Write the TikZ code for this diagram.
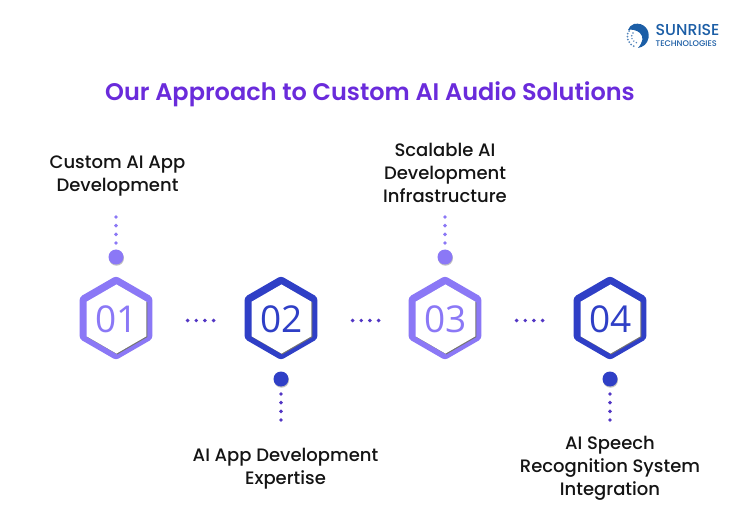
\documentclass[tikz,border=0pt]{standalone}
\usepackage{fontspec}
\setmainfont{Poppins}
\newfontfamily\labelfont{Poppins Medium}
\newfontfamily\titlefont{Poppins SemiBold}
\newfontfamily\numfont{Open Sans}
\usetikzlibrary{positioning,shapes.geometric,shadows}
\definecolor{lightpurple}{HTML}{8B78F6}
\definecolor{darkblue}{HTML}{2F3FC6}
\definecolor{dotviolet}{HTML}{5236C4}
\definecolor{titleviolet}{HTML}{6A2BDB}
\definecolor{logoblue}{HTML}{1C5EA6}

\begin{document}
\begin{tikzpicture}[x=1pt,y=-1pt]

 \tikzset{
    hexring/.style={regular polygon, regular polygon sides=6, shape border rotate=30,
      minimum size=84pt, inner sep=0pt, rounded corners=3pt, fill=#1},
    hexcore/.style={regular polygon, regular polygon sides=6, shape border rotate=30,
      minimum size=65pt, inner sep=0pt, fill=white, text=#1, font=\numfont\fontsize{37}{37}\selectfont,
      drop shadow={shadow xshift=0.9pt, shadow yshift=-0.8pt, fill=black!55, opacity=1}},
    bullet/.style={circle, minimum size=15pt, inner sep=0pt, fill=#1,
      drop shadow={shadow xshift=0.5pt, shadow yshift=-1.2pt, fill=black!25, opacity=1}},
    dotline/.style={draw=#1, line width=3.9pt, line cap=round, dash pattern=on 0pt off 8.67pt},
    steplabel/.style={align=center, inner sep=0pt, text=black!92,
      font=\labelfont\fontsize{18}{23}\selectfont},
  }

  \useasboundingbox (0,0) rectangle (740,532);
  \fill[white] (0,0) rectangle (740,532);

  % logo
  \fill[logoblue] (634,24) .. controls (644,22) and (650,30) .. (648.5,38)
    .. controls (647.5,44) and (643,47) .. (638,48)
    .. controls (643,42) and (644,37) .. (640,33)
    .. controls (637,30) and (631,29) .. (628,30)
    .. controls (629,27) and (631,25) .. (634,24) -- cycle;
  \draw[logoblue!75, line width=2pt, line cap=round, dash pattern=on 0pt off 3pt]
    (629,31) .. controls (625,37) and (628,45) .. (636,47);
  \draw[logoblue!75, line width=1.6pt, line cap=round, dash pattern=on 0pt off 3pt]
    (633,33) .. controls (630,37) and (632,41) .. (637,43);
  \node (logotop) [anchor=west, inner sep=0pt, text=logoblue, font=\labelfont\fontsize{15.8}{15.8}\selectfont] at (655.5,30) {SUNRISE};
  \node (logobottom) [anchor=west, inner sep=0pt, text=logoblue, font=\labelfont\fontsize{8.2}{8.2}\selectfont] at (655.5,43.5) {TECHNOLOGIES};

  \node (title) [inner sep=0pt, text=titleviolet, font=\titlefont\fontsize{24}{24}\selectfont] at (370,94)
    {Our Approach to Custom AI Audio Solutions};

  % hexagons
  \node (ring1) [hexring=lightpurple] at (116,318) {};
  \node (ring2) [hexring=darkblue] at (281,318) {};
  \node (ring3) [hexring=lightpurple] at (445,318) {};
  \node (ring4) [hexring=darkblue] at (610,318) {};
  \node (hex1) [hexcore=lightpurple] at (116.5,319) {01};
  \node (hex2) [hexcore=darkblue] at (281.5,319) {02};
  \node (hex3) [hexcore=lightpurple] at (445.5,319) {03};
  \node (hex4) [hexcore=darkblue] at (610.5,319) {04};

  % bullets
  \node (dot1) [bullet=lightpurple] at (116,257) {};
  \node (dot2) [bullet=darkblue] at (281,379) {};
  \node (dot3) [bullet=lightpurple] at (445,257) {};
  \node (dot4) [bullet=darkblue] at (610,379) {};

  % texts
  \node (text1) [steplabel] at (117.5,176) {Custom AI App\\Development};
  \node (text2) [steplabel] at (285.5,469) {AI App Development\\Expertise};
  \node (text3) [steplabel] at (445,173) {Scalable AI\\Development\\Infrastructure};
  \node (text4) [steplabel] at (610,468) {AI Speech\\Recognition System\\Integration};

  % dotted connectors
  \coordinate (end1) at (116,217);
  \coordinate (end2) at (281,420);
  \coordinate (end3) at (445,217);
  \coordinate (end4) at (610,420);
  \draw[dotline=lightpurple] (end1) -- (dot1);
  \draw[dotline=dotviolet] (end2) -- (dot2);
  \draw[dotline=lightpurple] (end3) -- (dot3);
  \draw[dotline=dotviolet] (end4) -- (dot4);
  \draw[dotline=dotviolet, shorten <=35pt, shorten >=28pt] ([yshift=-2.5pt]ring1.east) -- ([yshift=-2.5pt]ring2.west);
  \draw[dotline=dotviolet, shorten <=35pt, shorten >=28pt] ([yshift=-2.5pt]ring2.east) -- ([yshift=-2.5pt]ring3.west);
  \draw[dotline=dotviolet, shorten <=35pt, shorten >=28pt] ([yshift=-2.5pt]ring3.east) -- ([yshift=-2.5pt]ring4.west);
\end{tikzpicture}
\end{document}
